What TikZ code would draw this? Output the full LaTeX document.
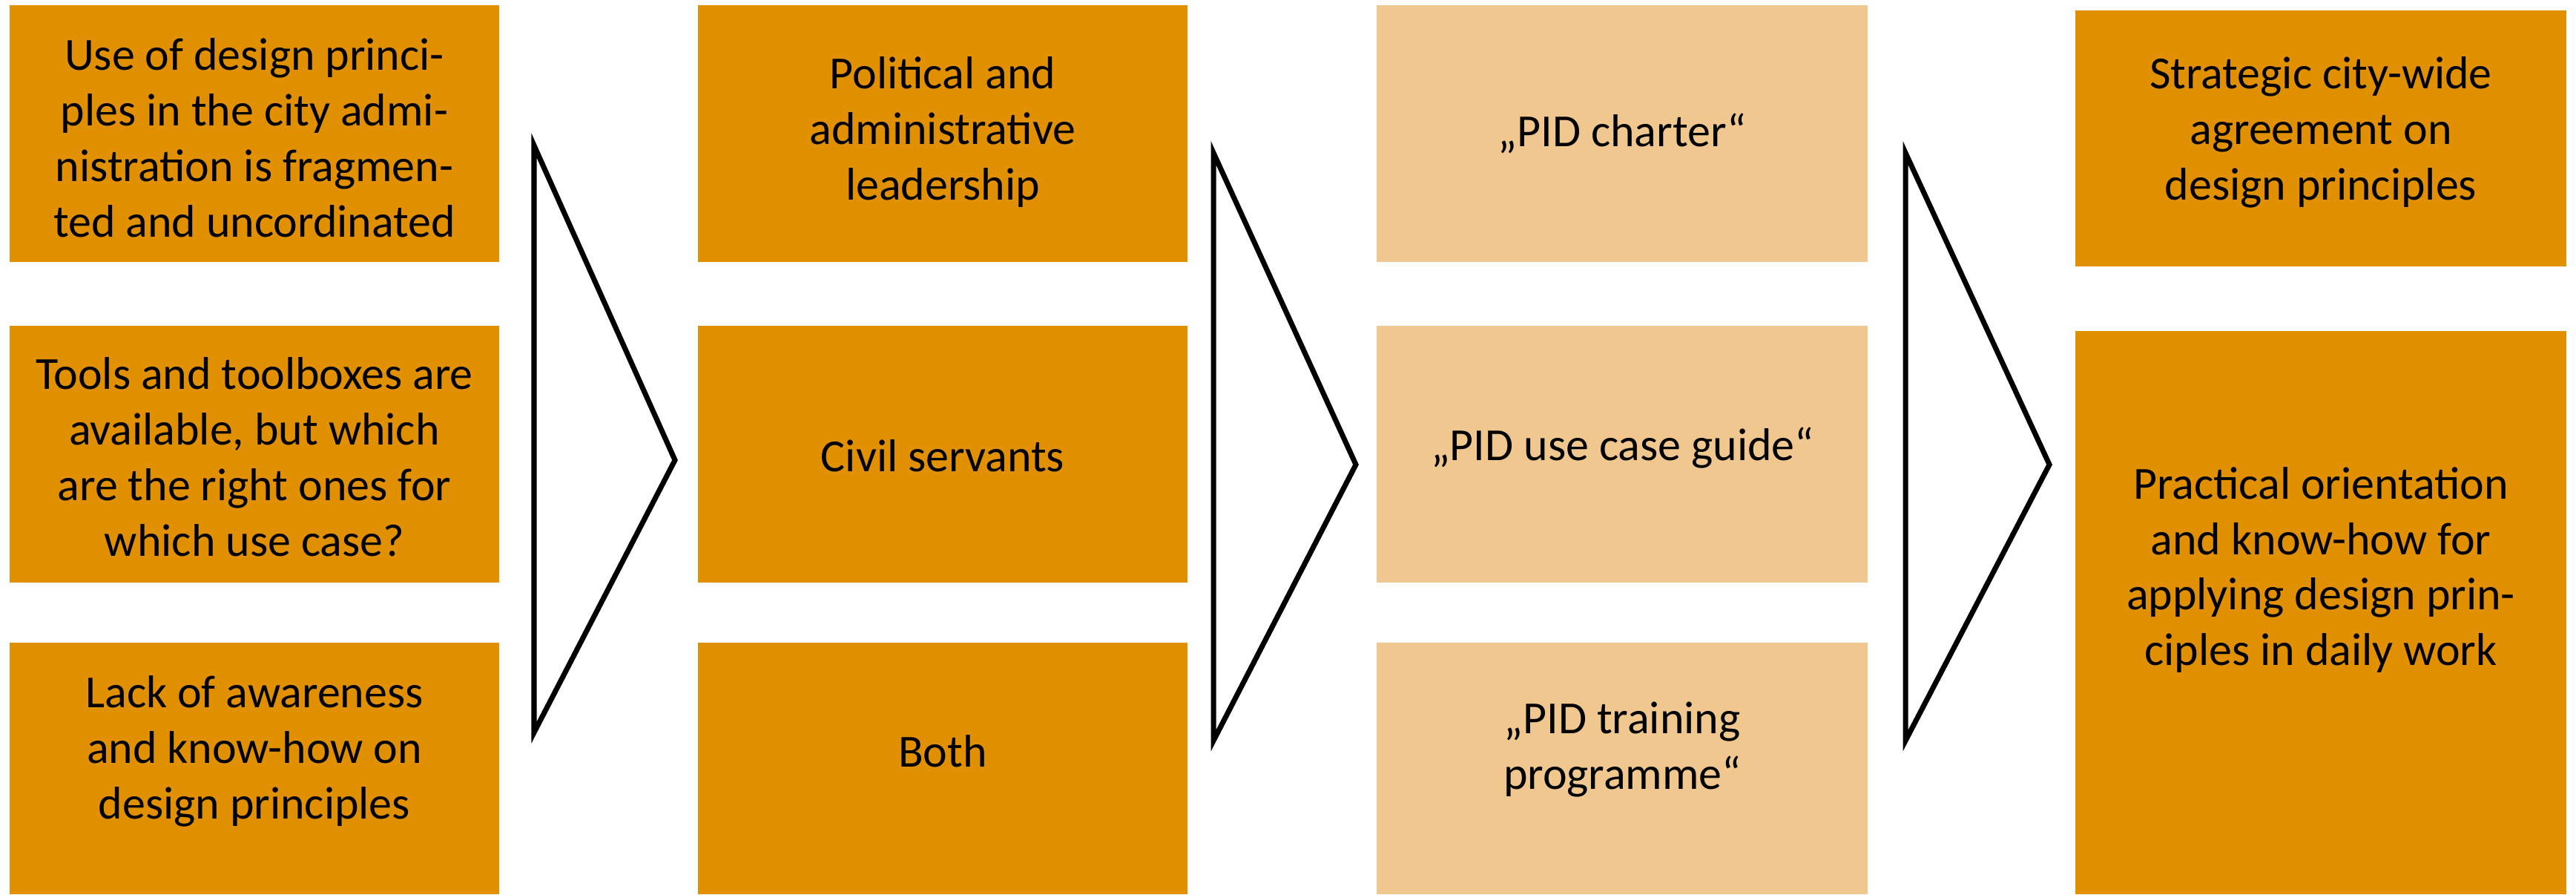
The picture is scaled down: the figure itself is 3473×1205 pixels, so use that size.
\documentclass[tikz,border=0pt]{standalone}
\usepackage{fontspec}
\setmainfont{Carlito}
\definecolor{darkor}{RGB}{224,144,0}
\definecolor{lightor}{RGB}{240,200,143}
\begin{document}
\begin{tikzpicture}[x=0.01cm,y=-0.01cm,
  box/.style={fill=#1,draw=none},
  txt/.style={align=center,font=\fontsize{17.6pt}{21.3pt}\selectfont,inner sep=0pt,text=black},
  chev/.style={draw=black,line width=2pt,fill=white,line join=miter}]
\useasboundingbox (0,0) rectangle (3473,1205);
% column 1
\fill[darkor] (13,7) rectangle (673,353);
\fill[darkor] (13,439) rectangle (673,785);
\fill[darkor] (13,866) rectangle (673,1205);
% column 2
\fill[darkor] (941,7) rectangle (1601,353);
\fill[darkor] (941,439) rectangle (1601,785);
\fill[darkor] (941,866) rectangle (1601,1205);
% column 3
\fill[lightor] (1856,7) rectangle (2518,353);
\fill[lightor] (1856,439) rectangle (2518,785);
\fill[lightor] (1856,866) rectangle (2518,1205);
% column 4
\fill[darkor] (2798,14) rectangle (3460,359);
\fill[darkor] (2798,446) rectangle (3460,1205);
% texts
\node[txt] (a1) at (343,186) {Use of design princi-\\ples in the city admi-\\nistration is fragmen-\\ted and uncordinated};
\node[txt] (a2) at (343,616) {Tools and toolboxes are\\available, but which\\are the right ones for\\which use case?};
\node[txt] (a3) at (343,1012) {Lack of awareness\\and know-how on\\design principles};
\node[txt] (b1) at (1271,178) {Political and\\administrative\\leadership};
\node[txt] (b2) at (1271,614) {Civil servants};
\node[txt] (b3) at (1271,1012) {Both};
\node[txt] (c1) at (2187,180) {„PID charter“};
\node[txt] (c2) at (2187,603) {„PID use case guide“};
\node[txt] (c3) at (2187,1010) {„PID training\\programme“};
\node[txt] (d1) at (3129,178) {Strategic city-wide\\agreement on\\design principles};
\node[txt] (d2) at (3129,768) {Practical orientation\\and know-how for\\applying design prin-\\ciples in daily work};
% chevrons
\coordinate (t1a) at (720,196); \coordinate (t1b) at (910,620); \coordinate (t1c) at (720,987);
\coordinate (t2a) at (1636,206); \coordinate (t2b) at (1828,626); \coordinate (t2c) at (1636,998);
\coordinate (t3a) at (2569,206); \coordinate (t3b) at (2763,626); \coordinate (t3c) at (2569,998);
\draw[chev] (t1a) -- (t1b) -- (t1c) -- cycle;
\draw[chev] (t2a) -- (t2b) -- (t2c) -- cycle;
\draw[chev] (t3a) -- (t3b) -- (t3c) -- cycle;
\end{tikzpicture}
\end{document}
